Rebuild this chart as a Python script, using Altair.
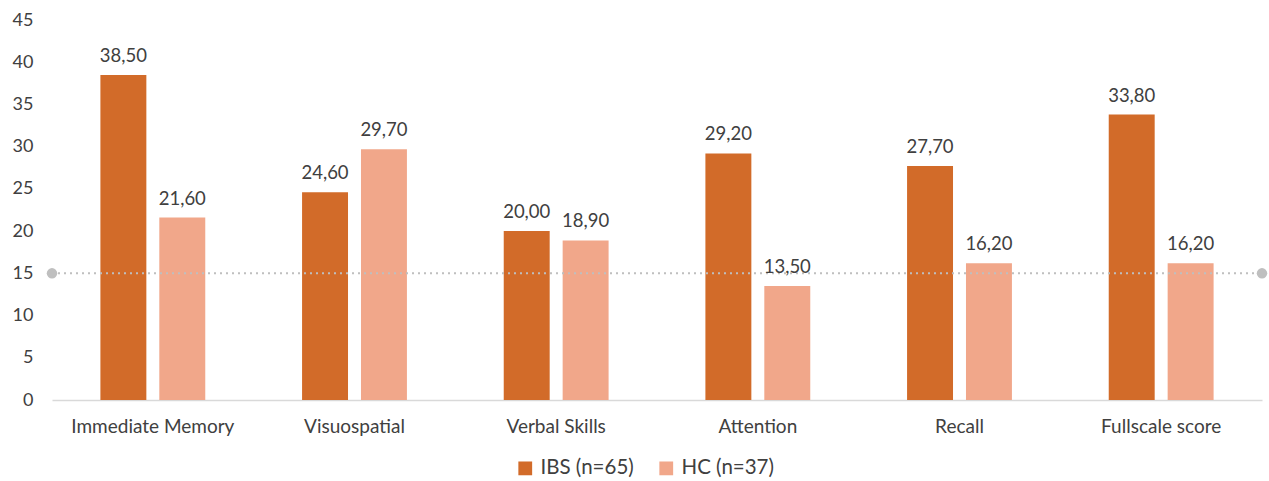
import altair as alt
import pandas as pd

categories = ["Immediate Memory", "Visuospatial", "Verbal Skills", "Attention", "Recall", "Fullscale score"]
ibs_values = [38.5, 24.6, 20.0, 29.2, 27.7, 33.8]
hc_values = [21.6, 29.7, 18.9, 13.5, 16.2, 16.2]
groups = ["IBS (n=65)", "HC (n=37)"]
colors = ["#D26B29", "#F1A78A"]
reference_value = 15

rows = []
for c, a, b in zip(categories, ibs_values, hc_values):
    for g, v in zip(groups, [a, b]):
        rows.append({"category": c, "group": g, "value": v,
                     "label": f"{v:.2f}".replace(".", ",")})
df = pd.DataFrame(rows)

W, H = 1210, 380
FONT = "Lato"
TXT = "#404040"

x = alt.X("category:N", sort=categories, title=None,
          scale=alt.Scale(paddingInner=0.48, paddingOuter=0.24),
          axis=alt.Axis(labelAngle=0, labelFontSize=19, labelColor=TXT,
                        labelFont=FONT, labelPadding=17, ticks=False,
                        domainColor="#D9D9D9", domainWidth=1.5))
xo = alt.XOffset("group:N", sort=groups,
                 scale=alt.Scale(paddingInner=0.22, paddingOuter=0))
y = alt.Y("value:Q", title=None,
          scale=alt.Scale(domain=[0, 45], nice=False),
          axis=alt.Axis(values=list(range(0, 50, 5)), grid=False, domain=False,
                        ticks=False, labelFontSize=18, labelColor=TXT,
                        labelFont=FONT, labelPadding=19))

base = alt.Chart(df)
bars = base.mark_bar().encode(
    x=x, xOffset=xo, y=y,
    color=alt.Color("group:N", sort=groups,
                    scale=alt.Scale(domain=groups, range=colors),
                    legend=alt.Legend(title=None, orient="none", direction="horizontal",
                                      legendX=463, legendY=438, symbolType="square",
                                      symbolSize=190, symbolStrokeWidth=0,
                                      labelFontSize=20.5, labelFont=FONT,
                                      labelColor=TXT, columnPadding=22,
                                      labelOffset=5, symbolOpacity=1)),
)
texts = base.mark_text(baseline="bottom", dy=-9, fontSize=18.5, font=FONT,
                       color=TXT).encode(
    x=alt.X("category:N", sort=categories), xOffset=xo, y="value:Q", text="label:N")

ref = pd.DataFrame({"v": [reference_value]})
rule = alt.Chart(ref).mark_rule(color="#BFBFBF", strokeDash=[2, 4], strokeWidth=2).encode(
    y="v:Q", x=alt.value(0), x2=alt.value(W))
dots = alt.Chart(pd.DataFrame({"v": [reference_value, reference_value], "p": [0, W]})).mark_circle(
    color="#BFBFBF", opacity=1, size=110).encode(y="v:Q", x=alt.X("p:Q", scale=None))

chart = alt.layer(bars, rule, dots, texts).properties(
    width=W, height=H, background="white",
    padding={"left": 52, "top": 20, "right": 7, "bottom": 81},
    autosize=alt.AutoSizeParams(type="none"),
).configure_view(stroke=None)

chart.save("out.html", embed_options={"renderer": "svg", "actions": False})
